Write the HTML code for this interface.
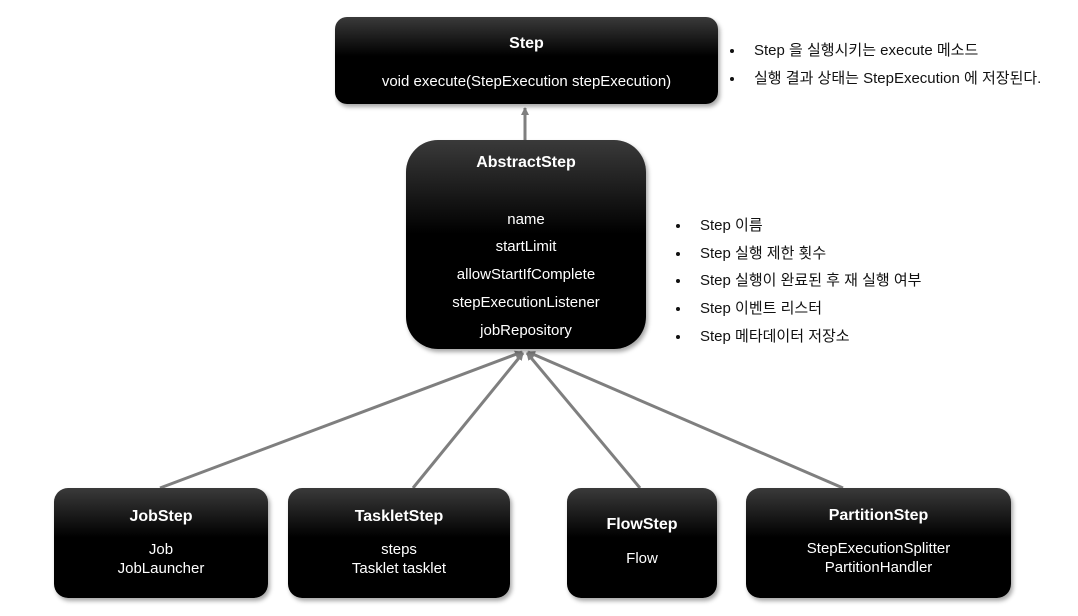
<!DOCTYPE html>
<html><head><meta charset="utf-8"><style>
body{margin:0;width:1078px;height:616px;background:#fff;position:relative;font-family:"Liberation Sans","Noto Sans CJK KR",sans-serif;overflow:hidden}
.b{position:absolute;background:linear-gradient(#3a3a3a,#000 45%);color:#fff;text-align:center;box-shadow:2px 3px 4px rgba(0,0,0,.35);font-size:15px}
.t{font-weight:bold;font-size:16px}
.r{position:absolute;font-size:15px;color:#111}
.r div{height:27.7px;line-height:20px;position:relative;padding-left:26px}
.r div:before{content:"";position:absolute;left:2px;top:8px;width:4px;height:4px;border-radius:50%;background:#111}
</style></head><body>
<svg width="1078" height="616" style="position:absolute;left:0;top:0">
<defs><marker id="a" markerWidth="8" markerHeight="8" refX="7" refY="4" orient="auto" markerUnits="userSpaceOnUse"><path d="M0,0L8,4L0,8z" fill="#7f7f7f"/></marker></defs>
<g stroke="#7f7f7f" stroke-width="3" fill="none">
<line x1="525" y1="140" x2="525" y2="108" marker-end="url(#a)"/>
<line x1="160" y1="488" x2="522" y2="352" marker-end="url(#a)"/>
<line x1="413" y1="488" x2="523" y2="353" marker-end="url(#a)"/>
<line x1="640" y1="488" x2="527" y2="353" marker-end="url(#a)"/>
<line x1="843" y1="488" x2="528" y2="352" marker-end="url(#a)"/>
</g></svg>
<div class="b" style="left:335px;top:17px;width:383px;height:87px;border-radius:12px"><div class="t" style="margin-top:18px">Step</div><div style="margin-top:20px">void execute(StepExecution stepExecution)</div></div>
<div class="b" style="left:406px;top:140px;width:240px;height:209px;border-radius:32px;line-height:27.7px"><div class="t" style="margin-top:9px">AbstractStep</div><div style="margin-top:29px">name<br>startLimit<br>allowStartIfComplete<br>stepExecutionListener<br>jobRepository</div></div>
<div class="b" style="left:54px;top:488px;width:214px;height:110px;border-radius:14px"><div class="t" style="margin-top:20px">JobStep</div><div style="margin-top:14px;line-height:19px">Job<br>JobLauncher</div></div>
<div class="b" style="left:288px;top:488px;width:222px;height:110px;border-radius:14px"><div class="t" style="margin-top:20px">TaskletStep</div><div style="margin-top:14px;line-height:19px">steps<br>Tasklet tasklet</div></div>
<div class="b" style="left:567px;top:488px;width:150px;height:110px;border-radius:14px"><div class="t" style="margin-top:28px">FlowStep</div><div style="margin-top:16px">Flow</div></div>
<div class="b" style="left:746px;top:488px;width:265px;height:110px;border-radius:14px"><div class="t" style="margin-top:19px">PartitionStep</div><div style="margin-top:14px;line-height:19px">StepExecutionSplitter<br>PartitionHandler</div></div>
<div class="r" style="left:728px;top:41px"><div>Step 을 실행시키는 execute 메소드</div><div>실행 결과 상태는 StepExecution 에 저장된다.</div></div>
<div class="r" style="left:674px;top:216px"><div>Step 이름</div><div>Step 실행 제한 횟수</div><div>Step 실행이 완료된 후 재 실행 여부</div><div>Step 이벤트 리스터</div><div>Step 메타데이터 저장소</div></div>
</body></html>
